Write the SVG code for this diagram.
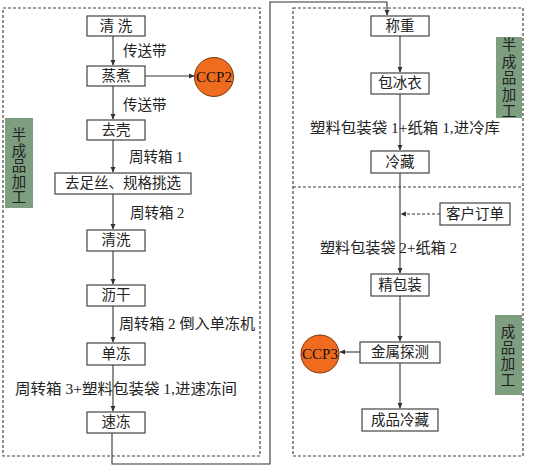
<svg xmlns="http://www.w3.org/2000/svg" width="554" height="470" viewBox="0 0 554 470">
<defs>
<marker id="ah" markerWidth="6" markerHeight="6" refX="5" refY="3" orient="auto" markerUnits="userSpaceOnUse">
<path d="M0,0.5 L5.5,3 L0,5.5 Z" fill="#333"/>
</marker>
</defs>
<style>
.box{fill:#fff;stroke:#444;stroke-width:1.2}
.t{font-family:"Liberation Serif","Noto Sans CJK SC",serif;font-size:14.5px;fill:#222}
.c{text-anchor:middle}
.frame{fill:none;stroke:#444;stroke-width:1.2;stroke-dasharray:3,2}
.ln{fill:none;stroke:#333;stroke-width:1.1}
.dl{fill:none;stroke:#333;stroke-width:1.1;stroke-dasharray:3,2}
.ccp{fill:#ef6b1e;stroke:#7a3510;stroke-width:1}
.tag{fill:#7e9e80}
</style>
<rect x="0" y="0" width="554" height="470" fill="#fff"/>
<g id="frames">
<rect class="frame" x="3" y="8" width="257" height="448"/>
<rect class="frame" x="293" y="8" width="230" height="448"/>
<line class="frame" x1="293" y1="187" x2="523" y2="187"/>
</g>
<g id="connectors">
<line class="ln" x1="113" y1="36" x2="113" y2="65" marker-end="url(#ah)"/>
<line class="ln" x1="145" y1="76" x2="194" y2="76" marker-end="url(#ah)"/>
<line class="ln" x1="113" y1="86" x2="113" y2="119" marker-end="url(#ah)"/>
<line class="ln" x1="113" y1="140" x2="113" y2="172" marker-end="url(#ah)"/>
<line class="ln" x1="113" y1="194" x2="113" y2="229" marker-end="url(#ah)"/>
<line class="ln" x1="113" y1="251" x2="113" y2="284" marker-end="url(#ah)"/>
<line class="ln" x1="113" y1="306" x2="113" y2="342" marker-end="url(#ah)"/>
<line class="ln" x1="113" y1="365" x2="113" y2="411" marker-end="url(#ah)"/>
<polyline class="ln" points="112,433 112,464 270,464 270,2 387,2 387,15" marker-end="url(#ah)"/>
<line class="ln" x1="400" y1="36" x2="400" y2="72" marker-end="url(#ah)"/>
<line class="ln" x1="400" y1="94" x2="400" y2="150" marker-end="url(#ah)"/>
<line class="ln" x1="400" y1="173" x2="400" y2="273" marker-end="url(#ah)"/>
<line class="dl" x1="440" y1="214" x2="401" y2="214" marker-end="url(#ah)"/>
<line class="ln" x1="400" y1="296" x2="400" y2="341" marker-end="url(#ah)"/>
<line class="ln" x1="360" y1="352" x2="340" y2="352" marker-end="url(#ah)"/>
<line class="ln" x1="400" y1="363" x2="400" y2="408" marker-end="url(#ah)"/>
</g>
<g id="edge-labels" class="t">
<text x="123" y="56">传送带</text>
<text x="123" y="110">传送带</text>
<text x="129" y="162">周转箱 1</text>
<text x="130" y="218">周转箱 2</text>
<text x="119" y="329" textLength="136" lengthAdjust="spacingAndGlyphs">周转箱 2 倒入单冻机</text>
<text x="15" y="394" textLength="222" lengthAdjust="spacingAndGlyphs">周转箱 3+塑料包装袋 1,进速冻间</text>
<text x="310" y="133" textLength="190" lengthAdjust="spacingAndGlyphs">塑料包装袋 1+纸箱 1,进冷库</text>
<text x="320" y="253" textLength="137" lengthAdjust="spacingAndGlyphs">塑料包装袋 2+纸箱 2</text>
</g>
<g id="n-qingxi1"><rect class="box" x="87" y="16" width="58" height="20"/><text class="t c" x="116" y="31">清 洗</text></g>
<g id="n-zhengzhu"><rect class="box" x="87" y="66" width="58" height="20"/><text class="t c" x="116" y="81">蒸煮</text></g>
<g id="n-ccp2"><circle class="ccp" cx="214" cy="77" r="19.5"/><text class="t c" x="214" y="82" style="font-size:15px;fill:#111">CCP2</text></g>
<g id="n-quke"><rect class="box" x="87" y="120" width="58" height="20"/><text class="t c" x="116" y="135">去壳</text></g>
<g id="n-quzu"><rect class="box" x="55" y="173" width="136" height="21"/><text class="t c" x="123" y="188">去足丝、规格挑选</text></g>
<g id="n-qingxi2"><rect class="box" x="87" y="230" width="58" height="21"/><text class="t c" x="116" y="245">清洗</text></g>
<g id="n-ligan"><rect class="box" x="87" y="285" width="58" height="21"/><text class="t c" x="116" y="300">沥干</text></g>
<g id="n-dandong"><rect class="box" x="87" y="343" width="58" height="22"/><text class="t c" x="116" y="359">单冻</text></g>
<g id="n-sudong"><rect class="box" x="87" y="412" width="58" height="21"/><text class="t c" x="116" y="427">速冻</text></g>
<g id="n-tag-left"><rect class="tag" x="5" y="118" width="28" height="90"/><text class="t c" x="19" y="140"><tspan x="19">半</tspan><tspan x="19" dy="15.5">成</tspan><tspan x="19" dy="15.5">品</tspan><tspan x="19" dy="15.5">加</tspan><tspan x="19" dy="15.5">工</tspan></text></g>
<g id="n-chengzhong"><rect class="box" x="371" y="16" width="58" height="20"/><text class="t c" x="400" y="31">称重</text></g>
<g id="n-baobingyi"><rect class="box" x="371" y="73" width="58" height="21"/><text class="t c" x="400" y="88">包冰衣</text></g>
<g id="n-lengcang"><rect class="box" x="371" y="151" width="58" height="22"/><text class="t c" x="400" y="167">冷藏</text></g>
<g id="n-kehu"><rect class="box" x="440" y="203" width="70" height="22"/><text class="t c" x="475" y="219">客户订单</text></g>
<g id="n-jingbaozhuang"><rect class="box" x="371" y="274" width="58" height="22"/><text class="t c" x="400" y="290">精包装</text></g>
<g id="n-jinshu"><rect class="box" x="360" y="342" width="80" height="21"/><text class="t c" x="400" y="357">金属探测</text></g>
<g id="n-ccp3"><circle class="ccp" cx="320" cy="354" r="19"/><text class="t c" x="320" y="359" style="font-size:15px;fill:#111">CCP3</text></g>
<g id="n-chengpin"><rect class="box" x="362" y="409" width="76" height="22"/><text class="t c" x="400" y="425">成品冷藏</text></g>
<g id="n-tag-right1"><rect class="tag" x="496" y="37" width="26" height="81"/><text class="t c" x="509" y="50"><tspan x="509">半</tspan><tspan x="509" dy="16.5">成</tspan><tspan x="509" dy="16.5">品</tspan><tspan x="509" dy="16.5">加</tspan><tspan x="509" dy="16.5">工</tspan></text></g>
<g id="n-tag-right2"><rect class="tag" x="495" y="315" width="27" height="80"/><text class="t c" x="508" y="337"><tspan x="508">成</tspan><tspan x="508" dy="16">品</tspan><tspan x="508" dy="16">加</tspan><tspan x="508" dy="16">工</tspan></text></g>
</svg>
